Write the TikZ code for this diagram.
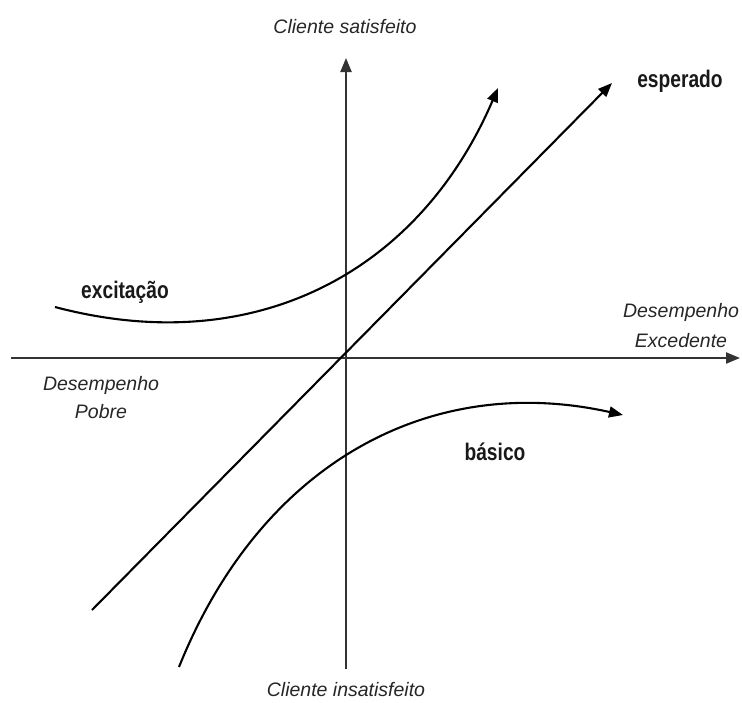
\documentclass[tikz,border=0pt]{standalone}
\usepackage{fontspec}
\setmainfont{Liberation Sans}
\newfontfamily\narrowsans[FakeStretch=0.8]{Liberation Sans}
\usetikzlibrary{arrows.meta,positioning}
\tikzset{
  axisline/.style={-{Triangle[length=14pt,width=11pt]}, black!80, line width=2.2pt},
  kcurve/.style={-{Triangle[length=14pt,width=11pt]}, black, line width=2.1pt},
  axlabel/.style={font=\fontsize{19.5}{30}\selectfont\itshape, text=black!85,
    align=center, inner sep=0pt, anchor=base},
  klabel/.style={font=\narrowsans\bfseries\fontsize{24}{26}\selectfont, text=black!90,
    inner sep=0pt, anchor=base}
}

\begin{document}
\begin{tikzpicture}[x=1pt,y=-1pt]
  \useasboundingbox (0,0) rectangle (742,702);
  % axes
  \coordinate (O) at (346,358);
  \coordinate (xl) at (11,358);
  \coordinate (xr) at (740,358);
  \coordinate (yb) at (346,669);
  \coordinate (yt) at (346,58);
  \draw[axisline] (xl) -- (xr);
  \draw[axisline] (yb) -- (yt);
  % axis labels
  \node[axlabel] (sat) at (345,33) {Cliente satisfeito};
  \node[axlabel] (insat) at (346,696) {Cliente insatisfeito};
  \node[axlabel] (exced) at (681,347) {Desempenho\\Excedente};
  \node[axlabel,font=\fontsize{19.5}{28}\selectfont\itshape] (pobre) at (101,418) {Desempenho\\Pobre};
  % curves
  \coordinate (e0) at (92,610);
  \coordinate (e1) at (612,83);
  \draw[kcurve] (e0) -- (e1);
  \coordinate (x0) at (55,307);
  \coordinate (x1) at (498,88);
  \draw[kcurve] (x0) .. controls (255,360) and (419,272) .. (x1);
  \coordinate (b0) at (179,667);
  \coordinate (b1) at (623,415);
  \draw[kcurve] (b0) .. controls (261,463) and (430,372) .. (b1);
  % curve labels
  \node[klabel] (esp) at (680,87) {esperado};
  \node[klabel] (exc) at (125,298) {excitação};
  \node[klabel] (bas) at (495,460) {básico};
\end{tikzpicture}
\end{document}
